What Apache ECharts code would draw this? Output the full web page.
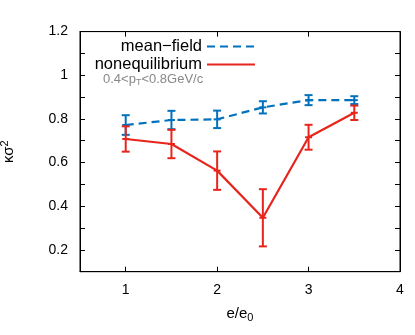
<!DOCTYPE html>
<html><head><meta charset="utf-8">
<script src="https://cdn.jsdelivr.net/npm/echarts@6/dist/echarts.min.js"></script>
<style>html,body{margin:0;padding:0;background:#fff}#c{width:415px;height:335px}</style>
</head><body><div id="c"></div>
<script>
var xValues = [1, 1.5, 2, 2.5, 3, 3.5];
var meanField = [0.772, 0.795, 0.798, 0.853, 0.886, 0.886];
var meanFieldErr = [0.045, 0.042, 0.040, 0.028, 0.023, 0.018];
var noneq = [0.708, 0.685, 0.563, 0.347, 0.716, 0.828];
var noneqErr = [0.058, 0.065, 0.088, 0.131, 0.057, 0.033];
var yTickLabels = ['0.2', '0.4', '0.6', '0.8', '1', '1.2'];

var BLUE = '#0072bd', RED = '#e8251c';
var FONT = 'Liberation Sans';

function pairs(v) { return xValues.map(function (x, i) { return [x, v[i]]; }); }
function errData(v, e) { return xValues.map(function (x, i) { return [x, v[i] - e[i], v[i] + e[i]]; }); }
function errSeries(name, v, e, color) {
  return {
    type: 'custom', name: name + ' err', data: errData(v, e), z: 5, silent: true,
    renderItem: function (params, api) {
      var lo = api.coord([api.value(0), api.value(1)]);
      var hi = api.coord([api.value(0), api.value(2)]);
      var w = 4;
      var st = { stroke: color, lineWidth: 2 };
      return { type: 'group', children: [
        { type: 'line', shape: { x1: lo[0], y1: lo[1], x2: hi[0], y2: hi[1] }, style: st },
        { type: 'line', shape: { x1: lo[0] - w, y1: lo[1], x2: lo[0] + w, y2: lo[1] }, style: st },
        { type: 'line', shape: { x1: hi[0] - w, y1: hi[1], x2: hi[0] + w, y2: hi[1] }, style: st }
      ]};
    }
  };
}

var axisCommon = {
  axisLine: { show: true, lineStyle: { color: '#000', width: 1 } },
  axisTick: { show: true, inside: true, length: 5, lineStyle: { color: '#000' } },
  splitLine: { show: false }
};

var chart = echarts.init(document.getElementById('c'), null, { renderer: 'canvas' });
chart.setOption({
  animation: false,
  textStyle: { fontFamily: FONT },
  grid: { left: 80, right: 15, top: 31.6, bottom: 63.3, show: true, borderColor: '#000', borderWidth: 1,
    containLabel: false, outerBoundsMode: 'none' },
  legend: {
    orient: 'vertical', align: 'right', right: 159, top: 38, itemGap: 1, padding: 0,
    itemWidth: 48, itemHeight: 14,
    itemStyle: { opacity: 0 },
    textStyle: { fontFamily: FONT, fontSize: 16.5, color: '#000', lineHeight: 16 },
    data: ['mean\u2212field', 'nonequilibrium']
  },
  xAxis: [
    Object.assign({ type: 'value', min: 0.5, max: 4, interval: 0.5, position: 'bottom',
      name: '{a|e/e}{s|0}', nameLocation: 'middle', nameGap: 33,
      nameTextStyle: { rich: { a: { fontSize: 15, fontFamily: FONT, color: '#000' }, s: { fontSize: 11, fontFamily: FONT, color: '#000', verticalAlign: 'bottom', padding: [8, 0, 0, 0] } } },
      axisLabel: { fontSize: 14, color: '#000', margin: 11, fontFamily: FONT,
        formatter: function (v) { return Math.abs(v - Math.round(v)) < 1e-6 && v >= 1 ? String(Math.round(v)) : ''; } }
    }, axisCommon, { axisTick: { show: true, inside: true, length: 5, lineStyle: { color: '#000' }, customValues: [1, 2, 3] } }),
    Object.assign({ type: 'value', min: 0.5, max: 4, interval: 0.5, position: 'top', axisLabel: { show: false } },
      axisCommon, { axisTick: { show: true, inside: true, length: 5, lineStyle: { color: '#000' }, customValues: [1, 2, 3] } })
  ],
  yAxis: [
    Object.assign({ type: 'value', min: 0.1, max: 1.2, interval: 0.1, position: 'left',
      name: '{a|\u03ba\u03c3}{s|2}', nameLocation: 'middle', nameGap: 62, nameRotate: 90,
      nameTextStyle: { rich: { a: { fontSize: 15, fontFamily: FONT, color: '#000' }, s: { fontSize: 11, fontFamily: FONT, color: '#000', verticalAlign: 'top', padding: [0, 0, 8, 0] } } },
      axisLabel: { fontSize: 14, color: '#000', margin: 12, fontFamily: FONT,
        formatter: function (v) { var k = Math.round(v * 10); return (k % 2 === 0) ? yTickLabels[k / 2 - 1] : ''; } }
    }, axisCommon),
    Object.assign({ type: 'value', min: 0.1, max: 1.2, interval: 0.1, position: 'right', axisLabel: { show: false } }, axisCommon)
  ],
  graphic: [{
    type: 'text', left: 103, top: 73,
    style: { text: '{a|0.4<p}{s|T}{a|<0.8GeV/c}', rich: {
      a: { fontSize: 13, fontFamily: FONT, fill: '#888' },
      s: { fontSize: 9, fontFamily: FONT, fill: '#888', padding: [6, 0, 0, 0] } } }
  }],
  series: [
    { type: 'line', name: 'mean\u2212field', data: pairs(meanField), symbol: 'rect', symbolSize: [7, 2],
      lineStyle: { color: BLUE, width: 2.2, type: [8, 5] }, itemStyle: { color: BLUE }, z: 4 },
    { type: 'line', name: 'nonequilibrium', data: pairs(noneq), symbol: 'rect', symbolSize: [7, 2],
      lineStyle: { color: RED, width: 2.2 }, itemStyle: { color: RED }, z: 4 },
    errSeries('mean\u2212field', meanField, meanFieldErr, BLUE),
    errSeries('nonequilibrium', noneq, noneqErr, RED)
  ]
});
</script></body></html>
